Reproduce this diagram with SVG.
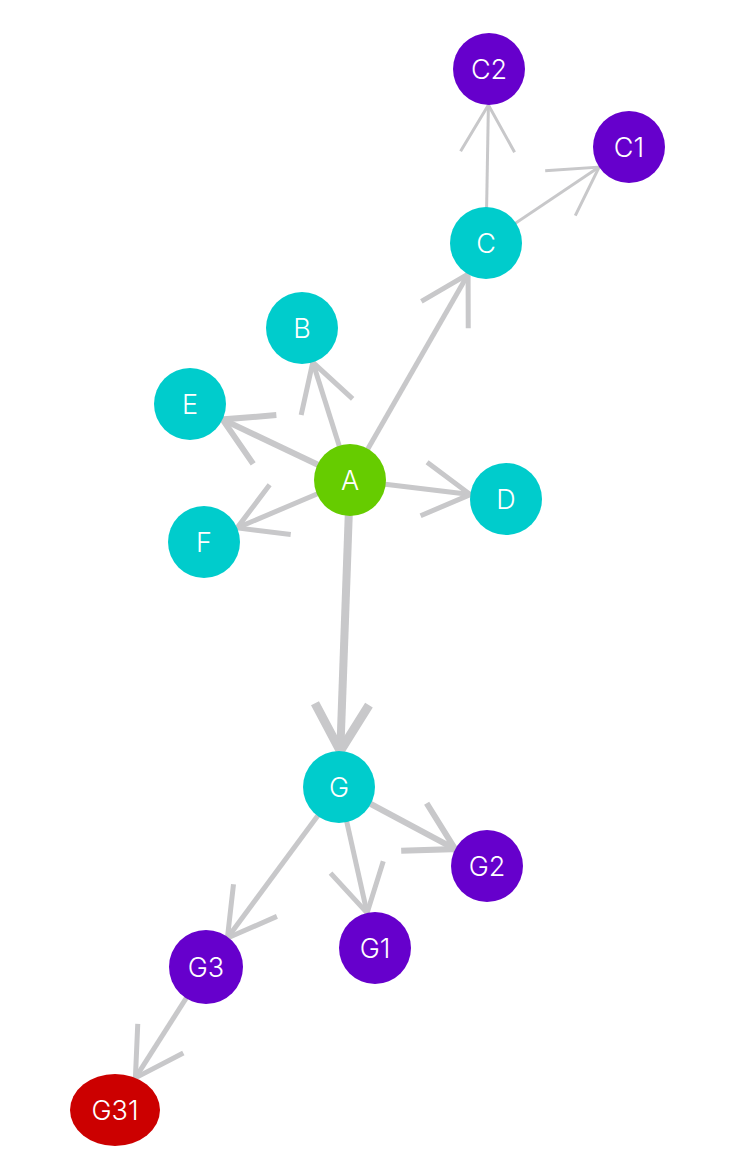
<svg xmlns="http://www.w3.org/2000/svg" width="749" height="1169" viewBox="0 0 749 1169">
  <style>
    .edge { stroke: #c8c8ca; fill: none; stroke-linecap: butt; }
    .w3 { stroke-width: 3; }
    .w5 { stroke-width: 5; }
    .w6 { stroke-width: 6; }
    .w8 { stroke-width: 8; }
    .head { fill: none; stroke: #c8c8ca; stroke-linejoin: miter; stroke-linecap: butt; }
    .teal { fill: #00cccc; }
    .purple { fill: #6600cc; }
    .green { fill: #66cc00; }
    .red { fill: #cc0000; }
    .label { fill: #ffffff; font-family: Inter, "Liberation Sans", sans-serif; font-size: 27px; font-weight: 300; text-anchor: middle; }
  </style>
  <defs>
    <marker id="arrow3" markerUnits="userSpaceOnUse" orient="auto" refX="0" refY="0" markerWidth="120" markerHeight="120" viewBox="-60 -60 120 120" overflow="visible">
      <path class="head" stroke-width="3" d="M -46.8 -27 L 0 0 L -46.8 27"/>
    </marker>
    <marker id="arrow5" markerUnits="userSpaceOnUse" orient="auto" refX="0" refY="0" markerWidth="120" markerHeight="120" viewBox="-60 -60 120 120" overflow="visible">
      <path class="head" stroke-width="5" d="M -46.8 -27 L 0 0 L -46.8 27"/>
    </marker>
    <marker id="arrow6" markerUnits="userSpaceOnUse" orient="auto" refX="0" refY="0" markerWidth="120" markerHeight="120" viewBox="-60 -60 120 120" overflow="visible">
      <path class="head" stroke-width="6" d="M -46.8 -27 L 0 0 L -46.8 27"/>
    </marker>
    <marker id="arrow8" markerUnits="userSpaceOnUse" orient="auto" refX="0" refY="0" markerWidth="120" markerHeight="120" viewBox="-60 -60 120 120" overflow="visible">
      <path class="head" stroke-width="9" d="M -46.8 -27 L 0 0 L -46.8 27"/>
    </marker>
  </defs>

  <!-- connectors: each runs from the source centre to the target rim -->
  <g id="edges">
    <line id="edge-A-B" class="edge w5" x1="350" y1="480" x2="312.8" y2="362.3" marker-end="url(#arrow5)"/>
    <line id="edge-A-E" class="edge w6" x1="350" y1="480" x2="222.5" y2="419.4" marker-end="url(#arrow6)"/>
    <line id="edge-A-F" class="edge w5" x1="350" y1="480" x2="237.1" y2="527.9" marker-end="url(#arrow5)"/>
    <line id="edge-A-D" class="edge w5" x1="350" y1="480" x2="470.3" y2="494.6" marker-end="url(#arrow5)"/>
    <line id="edge-A-C" class="edge w5" x1="350" y1="480" x2="468.1" y2="274.2" marker-end="url(#arrow5)"/>
    <line id="edge-A-G" class="edge w8" x1="350" y1="480" x2="340.3" y2="751" marker-end="url(#arrow8)"/>
    <line id="edge-C-C2" class="edge w3" x1="486" y1="243" x2="488.4" y2="105" marker-end="url(#arrow3)"/>
    <line id="edge-C-C1" class="edge w3" x1="486" y1="243" x2="599.1" y2="167.1" marker-end="url(#arrow3)"/>
    <line id="edge-G-G1" class="edge w5" x1="339" y1="787" x2="367.1" y2="912.9" marker-end="url(#arrow5)"/>
    <line id="edge-G-G2" class="edge w6" x1="339" y1="787" x2="455.2" y2="849.1" marker-end="url(#arrow6)"/>
    <line id="edge-G-G3" class="edge w5" x1="339" y1="787" x2="227.4" y2="938" marker-end="url(#arrow5)"/>
    <line id="edge-G3-G31" class="edge w5" x1="206" y1="967" x2="135.4" y2="1077.9" marker-end="url(#arrow5)"/>
  </g>

  <!-- nodes -->
  <g id="node-C2"><circle class="purple" cx="489" cy="69" r="36"/><text class="label" x="489" y="78.8">C2</text></g>
  <g id="node-C1"><circle class="purple" cx="629" cy="147" r="36"/><text class="label" x="629" y="156.8">C1</text></g>
  <g id="node-C"><circle class="teal" cx="486" cy="243" r="36"/><text class="label" x="486" y="252.8">C</text></g>
  <g id="node-B"><circle class="teal" cx="302" cy="328" r="36"/><text class="label" x="302" y="337.8">B</text></g>
  <g id="node-E"><circle class="teal" cx="190" cy="404" r="36"/><text class="label" x="190" y="413.8">E</text></g>
  <g id="node-A"><circle class="green" cx="350" cy="480" r="36"/><text class="label" x="350" y="489.8">A</text></g>
  <g id="node-D"><circle class="teal" cx="506" cy="499" r="36"/><text class="label" x="506" y="508.8">D</text></g>
  <g id="node-F"><circle class="teal" cx="204" cy="542" r="36"/><text class="label" x="204" y="551.8">F</text></g>
  <g id="node-G"><circle class="teal" cx="339" cy="787" r="36"/><text class="label" x="339" y="796.8">G</text></g>
  <g id="node-G2"><circle class="purple" cx="487" cy="866" r="36"/><text class="label" x="487" y="875.8">G2</text></g>
  <g id="node-G1"><circle class="purple" cx="375" cy="948" r="36"/><text class="label" x="375" y="957.8">G1</text></g>
  <g id="node-G3"><circle class="purple" cx="206" cy="967" r="37"/><text class="label" x="206" y="976.8">G3</text></g>
  <g id="node-G31"><ellipse class="red" cx="115" cy="1110" rx="45" ry="36"/><text class="label" x="115" y="1119.8">G31</text></g>
</svg>
